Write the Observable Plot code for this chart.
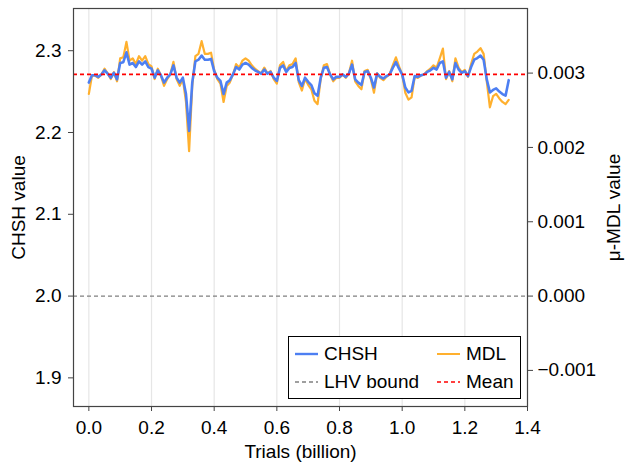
<!DOCTYPE html>
<html><head><meta charset="utf-8">
<script src="https://cdn.jsdelivr.net/npm/d3@7"></script>
<script src="https://cdn.jsdelivr.net/npm/@observablehq/plot@0.6"></script>
<style>
body{margin:0;background:#fff;font-family:"Liberation Sans",Arial,sans-serif;}
#wrap{position:relative;width:626px;height:464px;}
.legend{position:absolute;left:288px;top:336px;width:231px;height:61px;border:1px solid #000;background:#fff;font-size:19px;color:#000;}
.item{position:absolute;height:22px;display:flex;align-items:center;white-space:nowrap;}
.item svg{margin-right:6px;}
</style></head><body><div id="wrap"></div>
<script>
// ---- data ----
const step = 0.01; // billion trials between samples
const CHSH = [2.261,2.270,2.270,2.268,2.271,2.276,2.272,2.267,2.273,2.265,
 2.285,2.286,2.298,2.283,2.285,2.280,2.287,2.283,2.287,2.280,
 2.278,2.267,2.276,2.270,2.261,2.267,2.271,2.282,2.267,2.261,
 2.267,2.247,2.202,2.261,2.287,2.289,2.294,2.289,2.289,2.290,
 2.275,2.267,2.263,2.247,2.261,2.264,2.271,2.280,2.277,2.283,
 2.285,2.283,2.279,2.276,2.274,2.272,2.277,2.272,2.274,2.267,
 2.263,2.279,2.282,2.274,2.279,2.280,2.285,2.264,2.257,2.267,
 2.262,2.258,2.248,2.245,2.267,2.279,2.280,2.271,2.265,2.268,
 2.268,2.271,2.268,2.272,2.283,2.265,2.261,2.258,2.274,2.275,
 2.267,2.255,2.272,2.268,2.266,2.269,2.271,2.279,2.286,2.278,
 2.271,2.255,2.249,2.251,2.269,2.268,2.270,2.271,2.274,2.276,
 2.279,2.277,2.285,2.287,2.267,2.274,2.265,2.285,2.277,2.273,
 2.275,2.269,2.280,2.289,2.291,2.294,2.289,2.265,2.249,2.252,
 2.254,2.250,2.247,2.245,2.264];
const MDL = [0.002720,0.002967,0.002967,0.002936,0.002982,0.003059,0.002997,0.002920,0.003013,0.002890,
 0.003198,0.003213,0.003420,0.003167,0.003198,0.003121,0.003228,0.003167,0.003228,0.003121,
 0.003090,0.002920,0.003059,0.002967,0.002828,0.002920,0.002982,0.003151,0.002920,0.002828,
 0.002920,0.002612,0.001950,0.002828,0.003228,0.003259,0.003430,0.003259,0.003259,0.003275,
 0.003044,0.002920,0.002859,0.002612,0.002828,0.002874,0.002982,0.003121,0.003074,0.003167,
 0.003198,0.003167,0.003105,0.003059,0.003028,0.002997,0.003074,0.002997,0.003028,0.002920,
 0.002859,0.003105,0.003151,0.003028,0.003105,0.003121,0.003198,0.002874,0.002766,0.002920,
 0.002843,0.002782,0.002628,0.002582,0.002920,0.003105,0.003121,0.002982,0.002890,0.002936,
 0.002936,0.002982,0.002936,0.002997,0.003167,0.002890,0.002828,0.002782,0.003028,0.003044,
 0.002920,0.002736,0.002997,0.002936,0.002905,0.002951,0.002982,0.003105,0.003213,0.003090,
 0.002982,0.002736,0.002643,0.002674,0.002951,0.002936,0.002967,0.002982,0.003028,0.003059,
 0.003105,0.003074,0.003198,0.003330,0.002920,0.003028,0.002890,0.003198,0.003074,0.003013,
 0.003044,0.002951,0.003121,0.003259,0.003290,0.003336,0.003259,0.002890,0.002540,0.002689,
 0.002720,0.002659,0.002612,0.002582,0.002641];
const meanCHSH = 2.271;
const lhvBound = 2.0;
const xTicks = [0, 0.2, 0.4, 0.6, 0.8, 1.0, 1.2, 1.4];
const yTicks = [1.9, 2.0, 2.1, 2.2, 2.3];
const mdlTicks = [-0.001, 0, 0.001, 0.002, 0.003];
const labels = {x: "Trials (billion)", y: "CHSH value", y2: "μ-MDL value"};
const legendItems = [
  {label: "CHSH", color: "#4D7FF2", dash: null, width: 2.4},
  {label: "MDL", color: "#FFB02E", dash: null, width: 2},
  {label: "LHV bound", color: "#808080", dash: "4,3", width: 1.4},
  {label: "Mean", color: "#FF0000", dash: "4,3", width: 1.6}
];

// right axis shares the left scale: MDL 0 at CHSH 2, MDL 0.001 per 0.0909 CHSH
const mdlScale = 90.87;
const mdlToY = m => 2 + m * mdlScale;
const yToMdl = y => (y - 2) / mdlScale;

const trials = CHSH.map((_, i) => +(i * step).toFixed(2));
const data = trials.map((t, i) => ({t, chsh: CHSH[i], mdl: MDL[i]}));

const centered = {textAnchor: "middle", lineAnchor: "middle", fill: "#000"};
const plot = Plot.plot({
  width: 626, height: 464,
  marginLeft: 73, marginRight: 99, marginTop: 8, marginBottom: 58,
  style: {fontFamily: "Liberation Sans, Arial, sans-serif", fontSize: "19px", color: "#000", background: "#fff"},
  x: {domain: [-0.049, 1.4]},
  y: {domain: [1.865, 2.3516]},
  marks: [
    Plot.gridX(xTicks, {stroke: "#e6e6e6", strokeOpacity: 1, strokeWidth: 1.2}),
    Plot.ruleY([lhvBound], {stroke: "#808080", strokeDasharray: "4,3", strokeWidth: 1.4}),
    Plot.line(data, {x: "t", y: d => mdlToY(d.mdl), stroke: "#FFB02E", strokeWidth: 2.2}),
    Plot.line(data, {x: "t", y: "chsh", stroke: "#4D7FF2", strokeWidth: 2.6}),
    Plot.ruleY([meanCHSH], {stroke: "#FF0000", strokeDasharray: "4,3", strokeWidth: 1.7}),
    Plot.axisX(xTicks, {tickFormat: d3.format(".1f"), tickSize: 5, tickPadding: 9, stroke: "#444", label: null}),
    Plot.axisY(yTicks, {anchor: "left", tickFormat: d3.format(".1f"), tickSize: 5, tickPadding: 7, stroke: "#444", label: null}),
    Plot.axisY(mdlTicks.map(mdlToY), {anchor: "right", tickFormat: d => d3.format(".3f")(yToMdl(d)), tickSize: 5, tickPadding: 5, stroke: "#444", label: null}),
    Plot.frame({stroke: "#444", strokeWidth: 1.2}),
    Plot.text([labels.x], {frameAnchor: "bottom", dy: 45, ...centered}),
    Plot.text([labels.y], {frameAnchor: "left", dx: -55, rotate: -90, ...centered}),
    Plot.text([labels.y2], {frameAnchor: "right", dx: 86, rotate: -90, ...centered})
  ]
});
const wrap = document.getElementById("wrap");
wrap.appendChild(plot);

// legend overlay
const lg = document.createElement("div");
lg.className = "legend";
const pos = [{left: 6, top: 6}, {left: 148, top: 6}, {left: 6, top: 34}, {left: 148, top: 34}];
legendItems.forEach((it, i) => {
  const d = document.createElement("div");
  d.className = "item";
  d.style.left = pos[i].left + "px";
  d.style.top = pos[i].top + "px";
  d.innerHTML = `<svg width="23" height="10"><line x1="0" x2="23" y1="5" y2="5" stroke="${it.color}" stroke-width="${it.width}" ${it.dash ? `stroke-dasharray="${it.dash}"` : ""}/></svg><span>${it.label}</span>`;
  lg.appendChild(d);
});
wrap.appendChild(lg);
</script></body></html>
